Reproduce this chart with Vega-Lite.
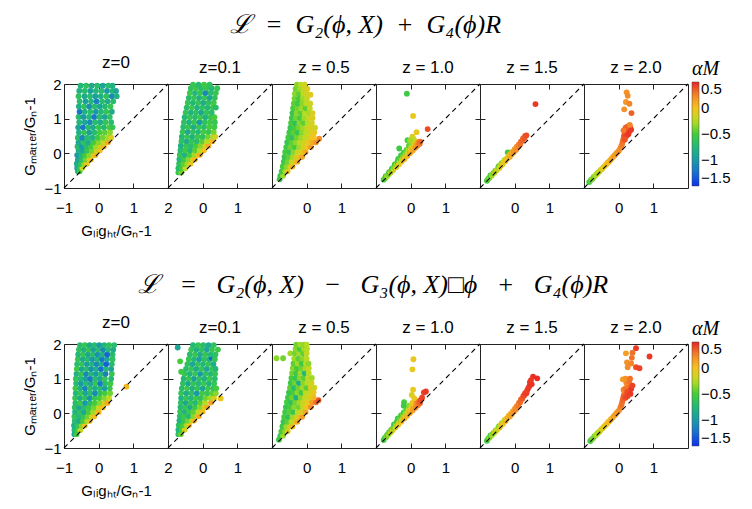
{
  "$schema": "https://vega.github.io/schema/vega-lite/v6.json",
  "background": "white",
  "padding": {"left": 22, "top": 11, "right": 5, "bottom": 5},
  "config": {
    "view": {"stroke": "#222", "strokeWidth": 1},
    "axis": {"domain": false, "grid": false, "tickSize": -5, "tickColor": "#222", "tickWidth": 1, "labelFont": "Liberation Sans", "labelFontSize": 15, "labelColor": "#000", "labelFlush": false, "labelOverlap": false, "labelPadding": 17, "titleFont": "Liberation Sans", "titleFontSize": 15, "titleFontWeight": "normal", "titleColor": "#000", "titlePadding": 8, "minExtent": 0},
    "axisY": {"labelPadding": 8, "titlePadding": 6},
    "title": {"font": "Liberation Sans", "fontSize": 17, "fontWeight": "normal", "color": "#000", "offset": 5},
    "legend": {"orient": "none", "legendX": 628, "legendY": -25, "padding": 0, "gradientLength": 104, "gradientThickness": 7, "gradientStrokeColor": "#444", "gradientStrokeWidth": 0.5, "labelFont": "Liberation Sans", "labelFontSize": 15, "labelColor": "#000", "labelOffset": 9, "labelBaseline": "middle", "titleFont": "Liberation Serif", "titleFontStyle": "italic", "titleFontSize": 20, "titleFontWeight": "normal", "titleColor": "#000", "titlePadding": 3}
  },
  "datasets": {
    "diag": [{"x": -1, "y": -1}, {"x": 2, "y": 2}],
    "a0": [
      {"x":-0.6,"y":-0.52,"a":-0.8},{"x":-0.55,"y":-0.52,"a":-0.5},
      {"x":-0.62,"y":-0.42,"a":-0.9},{"x":-0.55,"y":-0.42,"a":-0.6},{"x":-0.47,"y":-0.42,"a":-0.2},
      {"x":-0.63,"y":-0.3,"a":-0.85},{"x":-0.52,"y":-0.3,"a":-0.6},{"x":-0.42,"y":-0.3,"a":-0.35},{"x":-0.34,"y":-0.3,"a":-0.05},
      {"x":-0.6,"y":-0.18,"a":-0.9},{"x":-0.5,"y":-0.18,"a":-0.7},{"x":-0.38,"y":-0.18,"a":-0.4},{"x":-0.27,"y":-0.18,"a":-0.2},{"x":-0.22,"y":-0.18,"a":0.0},
      {"x":-0.62,"y":-0.05,"a":-1.0},{"x":-0.5,"y":-0.05,"a":-0.75},{"x":-0.4,"y":-0.05,"a":-0.55},{"x":-0.28,"y":-0.05,"a":-0.35},{"x":-0.15,"y":-0.05,"a":-0.15},{"x":-0.09,"y":-0.05,"a":0.05},
      {"x":-0.58,"y":0.08,"a":-0.8},{"x":-0.46,"y":0.08,"a":-0.9},{"x":-0.33,"y":0.08,"a":-0.6},{"x":-0.2,"y":0.08,"a":-0.4},{"x":-0.06,"y":0.08,"a":-0.2},{"x":0.03,"y":0.08,"a":0.02},
      {"x":-0.61,"y":0.2,"a":-0.7},{"x":-0.48,"y":0.2,"a":-1.0},{"x":-0.36,"y":0.2,"a":-0.7},{"x":-0.22,"y":0.2,"a":-0.5},{"x":-0.08,"y":0.2,"a":-0.3},{"x":0.06,"y":0.2,"a":-0.15},{"x":0.15,"y":0.2,"a":0.05},
      {"x":-0.58,"y":0.32,"a":-0.9},{"x":-0.44,"y":0.32,"a":-0.65},{"x":-0.3,"y":0.32,"a":-0.85},{"x":-0.15,"y":0.32,"a":-0.5},{"x":0.0,"y":0.32,"a":-0.35},{"x":0.14,"y":0.32,"a":-0.2},{"x":0.27,"y":0.32,"a":0.1},
      {"x":-0.6,"y":0.45,"a":-0.7},{"x":-0.47,"y":0.45,"a":-1.1},{"x":-0.33,"y":0.45,"a":-0.7},{"x":-0.18,"y":0.45,"a":-0.8},{"x":-0.03,"y":0.45,"a":-0.55},{"x":0.12,"y":0.45,"a":-0.4},{"x":0.27,"y":0.45,"a":-0.3},{"x":0.36,"y":0.45,"a":-0.1},
      {"x":-0.57,"y":0.6,"a":-0.8},{"x":-0.42,"y":0.6,"a":-0.6},{"x":-0.27,"y":0.6,"a":-0.95},{"x":-0.12,"y":0.6,"a":-0.7},{"x":0.03,"y":0.6,"a":-0.5},{"x":0.18,"y":0.6,"a":-0.45},{"x":0.33,"y":0.6,"a":-0.35},
      {"x":-0.59,"y":0.75,"a":-0.9},{"x":-0.45,"y":0.75,"a":-1.2},{"x":-0.3,"y":0.75,"a":-0.7},{"x":-0.16,"y":0.75,"a":-0.85},{"x":0.0,"y":0.75,"a":-0.6},{"x":0.15,"y":0.75,"a":-0.75},{"x":0.3,"y":0.75,"a":-0.5},{"x":0.4,"y":0.75,"a":-0.6},
      {"x":-0.56,"y":0.9,"a":-0.75},{"x":-0.4,"y":0.9,"a":-0.9},{"x":-0.25,"y":0.9,"a":-1.1},{"x":-0.1,"y":0.9,"a":-0.7},{"x":0.05,"y":0.9,"a":-0.85},{"x":0.2,"y":0.9,"a":-0.6},{"x":0.36,"y":0.9,"a":-0.7},
      {"x":-0.58,"y":1.05,"a":-0.7},{"x":-0.44,"y":1.05,"a":-1.0},{"x":-0.28,"y":1.05,"a":-0.75},{"x":-0.13,"y":1.05,"a":-1.2},{"x":0.02,"y":1.05,"a":-0.7},{"x":0.17,"y":1.05,"a":-0.9},{"x":0.32,"y":1.05,"a":-0.65},
      {"x":-0.55,"y":1.2,"a":-1.2},{"x":-0.4,"y":1.2,"a":-0.8},{"x":-0.24,"y":1.2,"a":-0.7},{"x":-0.08,"y":1.2,"a":-1.0},{"x":0.07,"y":1.2,"a":-0.75},{"x":0.22,"y":1.2,"a":-0.6},{"x":0.38,"y":1.2,"a":-0.85},
      {"x":-0.57,"y":1.35,"a":-0.8},{"x":-0.42,"y":1.35,"a":-0.65},{"x":-0.27,"y":1.35,"a":-1.05},{"x":-0.12,"y":1.35,"a":-0.7},{"x":0.03,"y":1.35,"a":-0.9},{"x":0.18,"y":1.35,"a":-0.75},{"x":0.34,"y":1.35,"a":-0.6},
      {"x":-0.55,"y":1.5,"a":-0.7},{"x":-0.38,"y":1.5,"a":-0.95},{"x":-0.22,"y":1.5,"a":-0.75},{"x":-0.06,"y":1.5,"a":-1.15},{"x":0.1,"y":1.5,"a":-0.7},{"x":0.26,"y":1.5,"a":-0.85},{"x":0.42,"y":1.5,"a":-0.7},
      {"x":-0.58,"y":1.65,"a":-0.65},{"x":-0.41,"y":1.65,"a":-0.85},{"x":-0.25,"y":1.65,"a":-0.7},{"x":-0.1,"y":1.65,"a":-0.95},{"x":0.06,"y":1.65,"a":-0.8},{"x":0.22,"y":1.65,"a":-0.65},{"x":0.38,"y":1.65,"a":-1.1},{"x":0.52,"y":1.65,"a":-0.8},
      {"x":-0.56,"y":1.8,"a":-0.8},{"x":-0.4,"y":1.8,"a":-0.7},{"x":-0.24,"y":1.8,"a":-0.95},{"x":-0.08,"y":1.8,"a":-0.75},{"x":0.08,"y":1.8,"a":-0.7},{"x":0.24,"y":1.8,"a":-1.0},{"x":0.4,"y":1.8,"a":-0.75},{"x":0.5,"y":1.8,"a":-0.9},
      {"x":-0.52,"y":1.95,"a":-0.75},{"x":-0.36,"y":1.95,"a":-0.65},{"x":-0.2,"y":1.95,"a":-0.85},{"x":-0.04,"y":1.95,"a":-0.7},{"x":0.12,"y":1.95,"a":-0.9},{"x":0.28,"y":1.95,"a":-0.7},{"x":0.4,"y":1.95,"a":-0.8}
    ],
    "a1": [
      {"x":-0.7,"y":-0.55,"a":-0.6},{"x":-0.62,"y":-0.55,"a":-0.4},
      {"x":-0.7,"y":-0.43,"a":-0.7},{"x":-0.6,"y":-0.43,"a":-0.5},{"x":-0.5,"y":-0.43,"a":-0.2},
      {"x":-0.68,"y":-0.3,"a":-0.65},{"x":-0.56,"y":-0.3,"a":-0.45},{"x":-0.44,"y":-0.3,"a":-0.3},{"x":-0.35,"y":-0.3,"a":-0.05},
      {"x":-0.67,"y":-0.17,"a":-0.75},{"x":-0.54,"y":-0.17,"a":-0.55},{"x":-0.41,"y":-0.17,"a":-0.35},{"x":-0.28,"y":-0.17,"a":-0.15},{"x":-0.22,"y":-0.17,"a":0.05},
      {"x":-0.66,"y":-0.04,"a":-0.6},{"x":-0.52,"y":-0.04,"a":-0.8},{"x":-0.38,"y":-0.04,"a":-0.5},{"x":-0.24,"y":-0.04,"a":-0.3},{"x":-0.12,"y":-0.04,"a":-0.1},{"x":-0.08,"y":-0.04,"a":0.08},
      {"x":-0.64,"y":0.09,"a":-0.7},{"x":-0.5,"y":0.09,"a":-0.55},{"x":-0.36,"y":0.09,"a":-0.75},{"x":-0.22,"y":0.09,"a":-0.45},{"x":-0.08,"y":0.09,"a":-0.25},{"x":0.04,"y":0.09,"a":0.0},
      {"x":-0.63,"y":0.22,"a":-0.8},{"x":-0.48,"y":0.22,"a":-0.6},{"x":-0.34,"y":0.22,"a":-0.7},{"x":-0.2,"y":0.22,"a":-0.5},{"x":-0.06,"y":0.22,"a":-0.35},{"x":0.08,"y":0.22,"a":-0.1},{"x":0.17,"y":0.22,"a":0.1},
      {"x":-0.61,"y":0.35,"a":-0.65},{"x":-0.46,"y":0.35,"a":-0.85},{"x":-0.32,"y":0.35,"a":-0.6},{"x":-0.17,"y":0.35,"a":-0.7},{"x":-0.02,"y":0.35,"a":-0.45},{"x":0.13,"y":0.35,"a":-0.25},{"x":0.28,"y":0.35,"a":0.05},
      {"x":-0.6,"y":0.48,"a":-0.75},{"x":-0.45,"y":0.48,"a":-0.6},{"x":-0.3,"y":0.48,"a":-0.8},{"x":-0.15,"y":0.48,"a":-0.55},{"x":0.0,"y":0.48,"a":-0.65},{"x":0.15,"y":0.48,"a":-0.4},{"x":0.3,"y":0.48,"a":-0.3},{"x":0.36,"y":0.48,"a":-0.15},
      {"x":-0.58,"y":0.62,"a":-0.6},{"x":-0.43,"y":0.62,"a":-0.9},{"x":-0.28,"y":0.62,"a":-0.65},{"x":-0.13,"y":0.62,"a":-0.75},{"x":0.02,"y":0.62,"a":-0.5},{"x":0.17,"y":0.62,"a":-0.6},{"x":0.32,"y":0.62,"a":-0.4},
      {"x":-0.56,"y":0.76,"a":-0.7},{"x":-0.41,"y":0.76,"a":-0.6},{"x":-0.26,"y":0.76,"a":-0.85},{"x":-0.11,"y":0.76,"a":-0.6},{"x":0.04,"y":0.76,"a":-0.7},{"x":0.19,"y":0.76,"a":-0.5},{"x":0.34,"y":0.76,"a":-0.55},
      {"x":-0.54,"y":0.9,"a":-0.65},{"x":-0.39,"y":0.9,"a":-0.8},{"x":-0.24,"y":0.9,"a":-0.6},{"x":-0.09,"y":0.9,"a":-1.0},{"x":0.06,"y":0.9,"a":-0.65},{"x":0.21,"y":0.9,"a":-0.55},{"x":0.35,"y":0.9,"a":-0.6},
      {"x":-0.52,"y":1.04,"a":-0.75},{"x":-0.37,"y":1.04,"a":-0.6},{"x":-0.22,"y":1.04,"a":-0.7},{"x":-0.07,"y":1.04,"a":-0.55},{"x":0.08,"y":1.04,"a":-0.8},{"x":0.23,"y":1.04,"a":-0.6},{"x":0.34,"y":1.04,"a":-0.5},
      {"x":-0.49,"y":1.18,"a":-0.6},{"x":-0.34,"y":1.18,"a":-0.8},{"x":-0.19,"y":1.18,"a":-0.65},{"x":-0.04,"y":1.18,"a":-0.9},{"x":0.11,"y":1.18,"a":-0.6},{"x":0.26,"y":1.18,"a":-0.7},
      {"x":-0.46,"y":1.32,"a":-0.7},{"x":-0.31,"y":1.32,"a":-0.55},{"x":-0.16,"y":1.32,"a":-0.8},{"x":-0.01,"y":1.32,"a":-0.65},{"x":0.14,"y":1.32,"a":-0.75},{"x":0.29,"y":1.32,"a":-0.6},{"x":0.38,"y":1.32,"a":-0.7},
      {"x":-0.43,"y":1.46,"a":-0.6},{"x":-0.28,"y":1.46,"a":-0.75},{"x":-0.13,"y":1.46,"a":-0.6},{"x":0.02,"y":1.46,"a":-0.85},{"x":0.17,"y":1.46,"a":-0.65},{"x":0.32,"y":1.46,"a":-0.55},
      {"x":-0.4,"y":1.6,"a":-0.7},{"x":-0.25,"y":1.6,"a":-0.6},{"x":-0.1,"y":1.6,"a":-0.8},{"x":0.05,"y":1.6,"a":-0.6},{"x":0.2,"y":1.6,"a":-0.9},{"x":0.35,"y":1.6,"a":-0.65},
      {"x":-0.37,"y":1.74,"a":-0.55},{"x":-0.22,"y":1.74,"a":-0.75},{"x":-0.07,"y":1.74,"a":-0.6},{"x":0.08,"y":1.74,"a":-1.1},{"x":0.23,"y":1.74,"a":-0.7},{"x":0.38,"y":1.74,"a":-0.6},
      {"x":-0.34,"y":1.88,"a":-0.65},{"x":-0.19,"y":1.88,"a":-0.55},{"x":-0.04,"y":1.88,"a":-0.7},{"x":0.11,"y":1.88,"a":-0.6},{"x":0.26,"y":1.88,"a":-0.75},{"x":0.42,"y":1.88,"a":-0.6},
      {"x":-0.28,"y":1.98,"a":-0.6},{"x":-0.12,"y":1.98,"a":-0.7},{"x":0.04,"y":1.98,"a":-0.55},{"x":0.2,"y":1.98,"a":-0.65}
    ],
    "a5": [
      {"x":-0.78,"y":-0.75,"a":-0.55},
      {"x":-0.76,"y":-0.65,"a":-0.6},{"x":-0.68,"y":-0.65,"a":-0.3},
      {"x":-0.72,"y":-0.52,"a":-0.55},{"x":-0.62,"y":-0.52,"a":-0.3},{"x":-0.55,"y":-0.52,"a":-0.05},
      {"x":-0.69,"y":-0.38,"a":-0.5},{"x":-0.58,"y":-0.38,"a":-0.35},{"x":-0.47,"y":-0.38,"a":-0.15},{"x":-0.41,"y":-0.38,"a":0.05},
      {"x":-0.66,"y":-0.24,"a":-0.55},{"x":-0.55,"y":-0.24,"a":-0.4},{"x":-0.43,"y":-0.24,"a":-0.2},{"x":-0.32,"y":-0.24,"a":-0.05},{"x":-0.27,"y":-0.24,"a":0.08},
      {"x":-0.64,"y":-0.1,"a":-0.6},{"x":-0.52,"y":-0.1,"a":-0.45},{"x":-0.4,"y":-0.1,"a":-0.3},{"x":-0.28,"y":-0.1,"a":-0.1},{"x":-0.16,"y":-0.1,"a":0.05},{"x":-0.13,"y":-0.1,"a":0.12},
      {"x":-0.62,"y":0.04,"a":-0.5},{"x":-0.5,"y":0.04,"a":-0.6},{"x":-0.38,"y":0.04,"a":-0.35},{"x":-0.26,"y":0.04,"a":-0.2},{"x":-0.14,"y":0.04,"a":-0.05},{"x":-0.03,"y":0.04,"a":0.1},
      {"x":-0.59,"y":0.18,"a":-0.55},{"x":-0.47,"y":0.18,"a":-0.4},{"x":-0.35,"y":0.18,"a":-0.5},{"x":-0.22,"y":0.18,"a":-0.3},{"x":-0.1,"y":0.18,"a":-0.15},{"x":0.02,"y":0.18,"a":0.0},{"x":0.12,"y":0.18,"a":0.15},
      {"x":-0.56,"y":0.32,"a":-0.6},{"x":-0.44,"y":0.32,"a":-0.45},{"x":-0.32,"y":0.32,"a":-0.35},{"x":-0.2,"y":0.32,"a":-0.25},{"x":-0.08,"y":0.32,"a":-0.15},{"x":0.05,"y":0.32,"a":-0.05},{"x":0.17,"y":0.32,"a":0.08},{"x":0.27,"y":0.32,"a":0.18},
      {"x":0.36,"y":0.42,"a":0.22},
      {"x":-0.53,"y":0.46,"a":-0.5},{"x":-0.41,"y":0.46,"a":-0.65},{"x":-0.29,"y":0.46,"a":-0.4},{"x":-0.16,"y":0.46,"a":-0.3},{"x":-0.04,"y":0.46,"a":-0.2},{"x":0.09,"y":0.46,"a":-0.1},{"x":0.2,"y":0.46,"a":0.0},
      {"x":-0.5,"y":0.6,"a":-0.55},{"x":-0.38,"y":0.6,"a":-0.45},{"x":-0.26,"y":0.6,"a":-0.6},{"x":-0.14,"y":0.6,"a":-0.35},{"x":-0.02,"y":0.6,"a":-0.25},{"x":0.1,"y":0.6,"a":-0.15},{"x":0.22,"y":0.6,"a":-0.05},
      {"x":-0.47,"y":0.74,"a":-0.6},{"x":-0.35,"y":0.74,"a":-0.5},{"x":-0.23,"y":0.74,"a":-0.4},{"x":-0.11,"y":0.74,"a":-0.3},{"x":0.01,"y":0.74,"a":-0.2},{"x":0.13,"y":0.74,"a":-0.1},{"x":0.24,"y":0.74,"a":-0.15},
      {"x":-0.45,"y":0.88,"a":-0.5},{"x":-0.33,"y":0.88,"a":-0.65},{"x":-0.21,"y":0.88,"a":-0.35},{"x":-0.09,"y":0.88,"a":-0.45},{"x":0.03,"y":0.88,"a":-0.25},{"x":0.15,"y":0.88,"a":-0.15},
      {"x":-0.43,"y":1.02,"a":-0.55},{"x":-0.31,"y":1.02,"a":-0.4},{"x":-0.19,"y":1.02,"a":-0.5},{"x":-0.07,"y":1.02,"a":-0.3},{"x":0.05,"y":1.02,"a":-0.2},{"x":0.17,"y":1.02,"a":-0.1},
      {"x":-0.41,"y":1.16,"a":-0.6},{"x":-0.29,"y":1.16,"a":-0.35},{"x":-0.17,"y":1.16,"a":-0.45},{"x":-0.05,"y":1.16,"a":-0.25},{"x":0.07,"y":1.16,"a":-0.3},{"x":0.17,"y":1.16,"a":-0.1},
      {"x":-0.39,"y":1.3,"a":-0.5},{"x":-0.27,"y":1.3,"a":-0.4},{"x":-0.15,"y":1.3,"a":-0.3},{"x":-0.03,"y":1.3,"a":-0.45},{"x":0.09,"y":1.3,"a":-0.2},
      {"x":-0.37,"y":1.44,"a":-0.45},{"x":-0.25,"y":1.44,"a":-0.55},{"x":-0.13,"y":1.44,"a":-0.35},{"x":-0.01,"y":1.44,"a":-0.25},{"x":0.1,"y":1.44,"a":-0.15},
      {"x":-0.35,"y":1.58,"a":-0.4},{"x":-0.23,"y":1.58,"a":-0.5},{"x":-0.11,"y":1.58,"a":-0.3},{"x":0.01,"y":1.58,"a":-0.2},
      {"x":-0.34,"y":1.72,"a":-0.35},{"x":-0.22,"y":1.72,"a":-0.45},{"x":-0.1,"y":1.72,"a":-0.25},{"x":0.0,"y":1.72,"a":-0.15},{"x":0.11,"y":1.69,"a":-0.1},
      {"x":-0.32,"y":1.86,"a":-0.4},{"x":-0.2,"y":1.86,"a":-0.3},{"x":-0.08,"y":1.86,"a":-0.2},{"x":0.02,"y":1.86,"a":-0.1},
      {"x":-0.28,"y":1.98,"a":-0.35},{"x":-0.17,"y":1.98,"a":-0.25},{"x":-0.06,"y":1.98,"a":-0.15}
    ],
    "a10": [
      {"x":-0.78,"y":-0.76,"a":-0.5},{"x":-0.74,"y":-0.72,"a":-0.45},{"x":-0.72,"y":-0.66,"a":-0.55},{"x":-0.68,"y":-0.66,"a":-0.3},{"x":-0.64,"y":-0.6,"a":-0.4},{"x":-0.62,"y":-0.54,"a":-0.55},{"x":-0.58,"y":-0.56,"a":-0.2},{"x":-0.56,"y":-0.5,"a":-0.4},{"x":-0.54,"y":-0.44,"a":-0.55},{"x":-0.5,"y":-0.48,"a":-0.15},{"x":-0.48,"y":-0.4,"a":-0.35},{"x":-0.46,"y":-0.32,"a":-0.5},{"x":-0.42,"y":-0.4,"a":-0.1},{"x":-0.4,"y":-0.33,"a":-0.3},{"x":-0.38,"y":-0.24,"a":-0.5},{"x":-0.36,"y":-0.16,"a":-0.55},{"x":-0.34,"y":-0.32,"a":-0.05},{"x":-0.32,"y":-0.25,"a":-0.25},{"x":-0.3,"y":-0.15,"a":-0.45},{"x":-0.28,"y":-0.06,"a":-0.55},{"x":-0.26,"y":-0.24,"a":0.0},{"x":-0.24,"y":-0.17,"a":-0.2},{"x":-0.22,"y":-0.08,"a":-0.4},{"x":-0.2,"y":0.02,"a":-0.5},{"x":-0.18,"y":-0.16,"a":0.05},{"x":-0.16,"y":-0.08,"a":-0.15},{"x":-0.14,"y":0.0,"a":-0.35},{"x":-0.12,"y":0.1,"a":-0.45},{"x":-0.1,"y":-0.08,"a":0.05},{"x":-0.08,"y":0.02,"a":-0.1},{"x":-0.06,"y":0.12,"a":-0.3},{"x":-0.05,"y":0.22,"a":-0.45},{"x":-0.02,"y":0.0,"a":0.1},{"x":0.0,"y":0.1,"a":-0.05},{"x":0.02,"y":0.2,"a":-0.2},{"x":0.03,"y":0.3,"a":-0.35},{"x":0.06,"y":0.08,"a":0.12},{"x":0.08,"y":0.18,"a":0.05},{"x":0.1,"y":0.28,"a":-0.1},{"x":0.12,"y":0.36,"a":-0.25},{"x":0.14,"y":0.16,"a":0.18},{"x":0.16,"y":0.25,"a":0.12},{"x":0.18,"y":0.34,"a":0.05},{"x":0.2,"y":0.22,"a":0.22},{"x":0.22,"y":0.3,"a":0.25},{"x":0.26,"y":0.28,"a":0.3},{"x":0.28,"y":0.34,"a":0.32},
      {"x":-0.11,"y":1.72,"a":-0.55},{"x":0.07,"y":1.08,"a":-0.05},{"x":0.49,"y":0.7,"a":0.4},{"x":0.17,"y":0.61,"a":-0.05},{"x":0.05,"y":0.48,"a":-0.1},{"x":-0.33,"y":0.14,"a":-0.55},{"x":-0.09,"y":0.38,"a":-0.5},{"x":0.08,"y":0.42,"a":-0.2},{"x":-0.02,"y":0.36,"a":-0.3}
    ],
    "a15": [
      {"x":-0.8,"y":-0.79,"a":-0.5},{"x":-0.76,"y":-0.73,"a":-0.45},{"x":-0.72,"y":-0.7,"a":-0.35},{"x":-0.7,"y":-0.64,"a":-0.5},{"x":-0.66,"y":-0.64,"a":-0.3},{"x":-0.62,"y":-0.57,"a":-0.4},{"x":-0.58,"y":-0.56,"a":-0.2},{"x":-0.56,"y":-0.5,"a":-0.4},{"x":-0.52,"y":-0.49,"a":-0.15},{"x":-0.48,"y":-0.42,"a":-0.3},{"x":-0.46,"y":-0.37,"a":-0.45},{"x":-0.44,"y":-0.42,"a":-0.1},{"x":-0.4,"y":-0.35,"a":-0.2},{"x":-0.38,"y":-0.28,"a":-0.35},{"x":-0.35,"y":-0.32,"a":-0.05},{"x":-0.32,"y":-0.26,"a":-0.1},{"x":-0.3,"y":-0.2,"a":-0.25},{"x":-0.27,"y":-0.23,"a":0.0},{"x":-0.24,"y":-0.16,"a":-0.05},{"x":-0.2,"y":0.03,"a":-0.55},{"x":-0.2,"y":-0.14,"a":0.05},{"x":-0.18,"y":-0.08,"a":-0.1},{"x":-0.14,"y":-0.1,"a":0.1},{"x":-0.12,"y":-0.02,"a":0.05},{"x":-0.08,"y":-0.03,"a":0.12},{"x":-0.06,"y":0.05,"a":0.1},{"x":-0.02,"y":0.04,"a":0.18},{"x":0.0,"y":0.12,"a":0.15},{"x":0.04,"y":0.1,"a":0.22},{"x":0.06,"y":0.19,"a":0.2},{"x":0.1,"y":0.18,"a":0.26},{"x":0.12,"y":0.26,"a":0.25},{"x":0.16,"y":0.26,"a":0.3},{"x":0.18,"y":0.34,"a":0.3},{"x":0.22,"y":0.36,"a":0.35},{"x":0.24,"y":0.43,"a":0.33},{"x":0.28,"y":0.44,"a":0.38},{"x":0.3,"y":0.5,"a":0.36},{"x":0.34,"y":0.52,"a":0.4},{"x":0.6,"y":1.42,"a":0.45}
    ],
    "a20": [
      {"x":-0.85,"y":-0.83,"a":-0.5},{"x":-0.8,"y":-0.77,"a":-0.45},{"x":-0.76,"y":-0.74,"a":-0.35},{"x":-0.72,"y":-0.68,"a":-0.4},{"x":-0.68,"y":-0.65,"a":-0.3},{"x":-0.64,"y":-0.6,"a":-0.25},{"x":-0.6,"y":-0.56,"a":-0.3},{"x":-0.56,"y":-0.53,"a":-0.15},{"x":-0.52,"y":-0.48,"a":-0.2},{"x":-0.48,"y":-0.45,"a":-0.1},{"x":-0.44,"y":-0.4,"a":-0.05},{"x":-0.4,"y":-0.36,"a":-0.1},{"x":-0.36,"y":-0.32,"a":0.0},{"x":-0.32,"y":-0.27,"a":0.05},{"x":-0.28,"y":-0.24,"a":0.02},{"x":-0.24,"y":-0.19,"a":0.1},{"x":-0.2,"y":-0.15,"a":0.08},{"x":-0.16,"y":-0.1,"a":0.12},{"x":-0.12,"y":-0.06,"a":0.15},{"x":-0.08,"y":-0.01,"a":0.15},{"x":-0.04,"y":0.03,"a":0.18},{"x":0.0,"y":0.07,"a":0.2},{"x":0.04,"y":0.13,"a":0.22},{"x":0.07,"y":0.2,"a":0.25},{"x":0.1,"y":0.27,"a":0.28},{"x":0.12,"y":0.35,"a":0.3},{"x":0.14,"y":0.42,"a":0.32},{"x":0.15,"y":0.5,"a":0.35},{"x":0.18,"y":0.56,"a":0.38},{"x":0.2,"y":0.62,"a":0.4},{"x":0.24,"y":0.66,"a":0.42},{"x":0.28,"y":0.7,"a":0.4},{"x":0.3,"y":0.62,"a":0.45},{"x":0.33,"y":0.76,"a":0.38},{"x":0.26,"y":0.78,"a":0.3},{"x":0.36,"y":0.68,"a":0.45},{"x":0.2,"y":0.74,"a":0.35},{"x":0.14,"y":0.66,"a":0.28},{"x":0.32,"y":0.82,"a":0.25},{"x":0.22,"y":0.5,"a":0.42},{"x":0.28,"y":0.55,"a":0.45},{"x":0.18,"y":0.4,"a":0.38},
      {"x":0.23,"y":1.76,"a":0.2},{"x":0.26,"y":1.66,"a":0.22},{"x":0.21,"y":1.48,"a":0.18},{"x":0.31,"y":1.43,"a":0.25},{"x":0.16,"y":1.27,"a":0.2},{"x":0.37,"y":1.16,"a":0.35}
    ],
    "b0": [
      {"x":-0.7,"y":-0.6,"a":-0.9},{"x":-0.64,"y":-0.6,"a":-0.5},
      {"x":-0.7,"y":-0.48,"a":-0.75},{"x":-0.61,"y":-0.48,"a":-0.55},{"x":-0.53,"y":-0.48,"a":-0.2},
      {"x":-0.71,"y":-0.35,"a":-0.8},{"x":-0.6,"y":-0.35,"a":-0.6},{"x":-0.49,"y":-0.35,"a":-0.35},{"x":-0.4,"y":-0.35,"a":-0.05},
      {"x":-0.69,"y":-0.22,"a":-0.7},{"x":-0.57,"y":-0.22,"a":-0.85},{"x":-0.45,"y":-0.22,"a":-0.5},{"x":-0.34,"y":-0.22,"a":-0.3},{"x":-0.26,"y":-0.22,"a":-0.05},
      {"x":-0.7,"y":-0.09,"a":-0.6},{"x":-0.57,"y":-0.09,"a":-0.75},{"x":-0.44,"y":-0.09,"a":-0.6},{"x":-0.32,"y":-0.09,"a":-0.4},{"x":-0.2,"y":-0.09,"a":-0.2},{"x":-0.13,"y":-0.09,"a":0.02},
      {"x":-0.68,"y":0.04,"a":-0.8},{"x":-0.55,"y":0.04,"a":-0.65},{"x":-0.42,"y":0.04,"a":-0.9},{"x":-0.29,"y":0.04,"a":-0.5},{"x":-0.16,"y":0.04,"a":-0.3},{"x":-0.03,"y":0.04,"a":-0.1},{"x":0.0,"y":0.04,"a":0.05},
      {"x":-0.69,"y":0.17,"a":-0.65},{"x":-0.56,"y":0.17,"a":-0.9},{"x":-0.42,"y":0.17,"a":-0.7},{"x":-0.28,"y":0.17,"a":-0.55},{"x":-0.14,"y":0.17,"a":-0.4},{"x":0.0,"y":0.17,"a":-0.2},{"x":0.12,"y":0.17,"a":0.0},
      {"x":-0.67,"y":0.3,"a":-0.7},{"x":-0.53,"y":0.3,"a":-0.55},{"x":-0.39,"y":0.3,"a":-1.0},{"x":-0.25,"y":0.3,"a":-0.7},{"x":-0.11,"y":0.3,"a":-0.5},{"x":0.03,"y":0.3,"a":-0.35},{"x":0.17,"y":0.3,"a":-0.15},{"x":0.25,"y":0.3,"a":0.1},
      {"x":-0.68,"y":0.44,"a":-0.6},{"x":-0.54,"y":0.44,"a":-0.85},{"x":-0.4,"y":0.44,"a":-0.65},{"x":-0.26,"y":0.44,"a":-1.05},{"x":-0.12,"y":0.44,"a":-0.6},{"x":0.02,"y":0.44,"a":-0.5},{"x":0.16,"y":0.44,"a":-0.35},{"x":0.3,"y":0.44,"a":-0.2},
      {"x":-0.66,"y":0.58,"a":-0.75},{"x":-0.52,"y":0.58,"a":-0.6},{"x":-0.38,"y":0.58,"a":-0.9},{"x":-0.24,"y":0.58,"a":-0.7},{"x":-0.1,"y":0.58,"a":-1.1},{"x":0.04,"y":0.58,"a":-0.65},{"x":0.18,"y":0.58,"a":-0.5},{"x":0.33,"y":0.58,"a":-0.4},
      {"x":-0.67,"y":0.72,"a":-0.55},{"x":-0.53,"y":0.72,"a":-0.8},{"x":-0.39,"y":0.72,"a":-1.15},{"x":-0.25,"y":0.72,"a":-0.65},{"x":-0.11,"y":0.72,"a":-0.85},{"x":0.03,"y":0.72,"a":-0.7},{"x":0.17,"y":0.72,"a":-0.95},{"x":0.32,"y":0.72,"a":-0.6},
      {"x":0.8,"y":0.77,"a":0.05},
      {"x":-0.65,"y":0.86,"a":-0.7},{"x":-0.51,"y":0.86,"a":-1.0},{"x":-0.37,"y":0.86,"a":-0.7},{"x":-0.23,"y":0.86,"a":-0.9},{"x":-0.09,"y":0.86,"a":-0.6},{"x":0.05,"y":0.86,"a":-1.2},{"x":0.19,"y":0.86,"a":-0.7},{"x":0.34,"y":0.86,"a":-0.55},
      {"x":-0.66,"y":1.0,"a":-0.6},{"x":-0.52,"y":1.0,"a":-0.75},{"x":-0.38,"y":1.0,"a":-0.95},{"x":-0.24,"y":1.0,"a":-1.2},{"x":-0.1,"y":1.0,"a":-0.7},{"x":0.04,"y":1.0,"a":-0.9},{"x":0.18,"y":1.0,"a":-0.6},{"x":0.36,"y":1.0,"a":-0.75},
      {"x":-0.64,"y":1.14,"a":-0.8},{"x":-0.5,"y":1.14,"a":-0.6},{"x":-0.36,"y":1.14,"a":-1.1},{"x":-0.22,"y":1.14,"a":-0.75},{"x":-0.08,"y":1.14,"a":-1.0},{"x":0.06,"y":1.14,"a":-0.7},{"x":0.2,"y":1.14,"a":-1.15},{"x":0.38,"y":1.14,"a":-0.6},
      {"x":-0.63,"y":1.28,"a":-0.55},{"x":-0.49,"y":1.28,"a":-0.9},{"x":-0.35,"y":1.28,"a":-0.7},{"x":-0.21,"y":1.28,"a":-1.05},{"x":-0.07,"y":1.28,"a":-0.8},{"x":0.07,"y":1.28,"a":-1.25},{"x":0.21,"y":1.28,"a":-0.75},{"x":0.36,"y":1.28,"a":-0.9},
      {"x":-0.62,"y":1.42,"a":-0.7},{"x":-0.48,"y":1.42,"a":-0.6},{"x":-0.34,"y":1.42,"a":-0.95},{"x":-0.2,"y":1.42,"a":-0.75},{"x":-0.06,"y":1.42,"a":-1.1},{"x":0.08,"y":1.42,"a":-0.8},{"x":0.22,"y":1.42,"a":-1.3},{"x":0.38,"y":1.42,"a":-0.7},
      {"x":-0.6,"y":1.56,"a":-0.6},{"x":-0.46,"y":1.56,"a":-0.85},{"x":-0.32,"y":1.56,"a":-0.7},{"x":-0.18,"y":1.56,"a":-1.0},{"x":-0.04,"y":1.56,"a":-0.75},{"x":0.1,"y":1.56,"a":-1.2},{"x":0.24,"y":1.56,"a":-0.9},{"x":0.4,"y":1.56,"a":-0.65},
      {"x":-0.59,"y":1.7,"a":-0.75},{"x":-0.45,"y":1.7,"a":-0.6},{"x":-0.31,"y":1.7,"a":-0.9},{"x":-0.17,"y":1.7,"a":-0.7},{"x":-0.03,"y":1.7,"a":-1.05},{"x":0.11,"y":1.7,"a":-0.8},{"x":0.25,"y":1.7,"a":-1.3},{"x":0.4,"y":1.7,"a":-0.7},
      {"x":-0.57,"y":1.84,"a":-0.65},{"x":-0.43,"y":1.84,"a":-0.8},{"x":-0.29,"y":1.84,"a":-0.6},{"x":-0.15,"y":1.84,"a":-0.95},{"x":-0.01,"y":1.84,"a":-0.7},{"x":0.13,"y":1.84,"a":-1.1},{"x":0.27,"y":1.84,"a":-0.75},{"x":0.42,"y":1.84,"a":-0.85},
      {"x":-0.54,"y":1.97,"a":-0.7},{"x":-0.4,"y":1.97,"a":-0.6},{"x":-0.26,"y":1.97,"a":-0.85},{"x":-0.12,"y":1.97,"a":-0.7},{"x":0.02,"y":1.97,"a":-1.0},{"x":0.16,"y":1.97,"a":-0.75},{"x":0.3,"y":1.97,"a":-0.65},{"x":0.45,"y":1.97,"a":-0.7}
    ],
    "b1": [
      {"x":-0.7,"y":-0.6,"a":-0.7},{"x":-0.63,"y":-0.6,"a":-0.4},
      {"x":-0.7,"y":-0.47,"a":-0.75},{"x":-0.6,"y":-0.47,"a":-0.5},{"x":-0.52,"y":-0.47,"a":-0.15},
      {"x":-0.69,"y":-0.34,"a":-0.65},{"x":-0.58,"y":-0.34,"a":-0.5},{"x":-0.47,"y":-0.34,"a":-0.3},{"x":-0.39,"y":-0.34,"a":0.0},
      {"x":-0.67,"y":-0.21,"a":-0.8},{"x":-0.55,"y":-0.21,"a":-0.6},{"x":-0.43,"y":-0.21,"a":-0.4},{"x":-0.31,"y":-0.21,"a":-0.2},{"x":-0.25,"y":-0.21,"a":0.05},
      {"x":-0.66,"y":-0.08,"a":-0.7},{"x":-0.53,"y":-0.08,"a":-0.55},{"x":-0.4,"y":-0.08,"a":-0.75},{"x":-0.27,"y":-0.08,"a":-0.35},{"x":-0.15,"y":-0.08,"a":-0.15},{"x":-0.11,"y":-0.08,"a":0.1},
      {"x":-0.65,"y":0.05,"a":-0.6},{"x":-0.52,"y":0.05,"a":-0.8},{"x":-0.39,"y":0.05,"a":-0.55},{"x":-0.26,"y":0.05,"a":-0.45},{"x":-0.13,"y":0.05,"a":-0.25},{"x":0.0,"y":0.05,"a":0.02},
      {"x":-0.64,"y":0.18,"a":-0.75},{"x":-0.5,"y":0.18,"a":-0.6},{"x":-0.36,"y":0.18,"a":-0.85},{"x":-0.22,"y":0.18,"a":-0.55},{"x":-0.08,"y":0.18,"a":-0.35},{"x":0.05,"y":0.18,"a":-0.15},{"x":0.13,"y":0.18,"a":0.1},
      {"x":-0.63,"y":0.31,"a":-0.65},{"x":-0.49,"y":0.31,"a":-0.9},{"x":-0.35,"y":0.31,"a":-0.6},{"x":-0.21,"y":0.31,"a":-0.75},{"x":-0.07,"y":0.31,"a":-0.45},{"x":0.07,"y":0.31,"a":-0.25},{"x":0.24,"y":0.31,"a":0.12},
      {"x":-0.62,"y":0.44,"a":-0.8},{"x":-0.48,"y":0.44,"a":-0.6},{"x":-0.34,"y":0.44,"a":-0.75},{"x":-0.2,"y":0.44,"a":-0.55},{"x":-0.06,"y":0.44,"a":-0.65},{"x":0.08,"y":0.44,"a":-0.4},{"x":0.22,"y":0.44,"a":-0.3},{"x":0.33,"y":0.44,"a":-0.1},{"x":0.52,"y":0.43,"a":-0.05},
      {"x":-0.62,"y":0.58,"a":-0.6},{"x":-0.47,"y":0.58,"a":-0.85},{"x":-0.32,"y":0.58,"a":-0.65},{"x":-0.17,"y":0.58,"a":-1.0},{"x":-0.02,"y":0.58,"a":-0.55},{"x":0.13,"y":0.58,"a":-0.6},{"x":0.28,"y":0.58,"a":-0.45},{"x":0.38,"y":0.58,"a":-0.35},
      {"x":-0.6,"y":0.72,"a":-0.7},{"x":-0.45,"y":0.72,"a":-0.55},{"x":-0.3,"y":0.72,"a":-0.8},{"x":-0.15,"y":0.72,"a":-0.6},{"x":0.0,"y":0.72,"a":-0.9},{"x":0.15,"y":0.72,"a":-0.55},{"x":0.3,"y":0.72,"a":-0.65},{"x":0.39,"y":0.72,"a":-0.5},
      {"x":-0.57,"y":0.86,"a":-0.65},{"x":-0.42,"y":0.86,"a":-0.9},{"x":-0.27,"y":0.86,"a":-0.6},{"x":-0.12,"y":0.86,"a":-0.75},{"x":0.03,"y":0.86,"a":-0.55},{"x":0.18,"y":0.86,"a":-0.8},{"x":0.33,"y":0.86,"a":-0.6},
      {"x":-0.55,"y":1.0,"a":-0.75},{"x":-0.4,"y":1.0,"a":-0.6},{"x":-0.25,"y":1.0,"a":-0.95},{"x":-0.1,"y":1.0,"a":-0.65},{"x":0.05,"y":1.0,"a":-0.8},{"x":0.2,"y":1.0,"a":-0.55},{"x":0.35,"y":1.0,"a":-0.7},
      {"x":-0.52,"y":1.14,"a":-0.6},{"x":-0.37,"y":1.14,"a":-0.8},{"x":-0.22,"y":1.14,"a":-0.6},{"x":-0.07,"y":1.14,"a":-1.0},{"x":0.08,"y":1.14,"a":-0.65},{"x":0.23,"y":1.14,"a":-0.75},{"x":0.36,"y":1.14,"a":-0.6},{"x":-0.62,"y":1.2,"a":-0.55},
      {"x":-0.48,"y":1.28,"a":-0.7},{"x":-0.33,"y":1.28,"a":-0.6},{"x":-0.18,"y":1.28,"a":-0.85},{"x":-0.03,"y":1.28,"a":-0.6},{"x":0.12,"y":1.28,"a":-0.9},{"x":0.27,"y":1.28,"a":-0.6},{"x":0.37,"y":1.28,"a":-0.75},
      {"x":-0.44,"y":1.42,"a":-0.65},{"x":-0.29,"y":1.42,"a":-0.9},{"x":-0.14,"y":1.42,"a":-0.6},{"x":0.01,"y":1.42,"a":-0.75},{"x":0.16,"y":1.42,"a":-0.6},{"x":0.31,"y":1.42,"a":-0.85},{"x":-0.65,"y":1.5,"a":-0.5},
      {"x":-0.4,"y":1.56,"a":-0.6},{"x":-0.25,"y":1.56,"a":-0.75},{"x":-0.1,"y":1.56,"a":-0.95},{"x":0.05,"y":1.56,"a":-0.65},{"x":0.2,"y":1.56,"a":-0.8},{"x":0.26,"y":1.61,"a":-1.3},{"x":0.35,"y":1.56,"a":-0.6},
      {"x":-0.37,"y":1.7,"a":-0.7},{"x":-0.22,"y":1.7,"a":-0.6},{"x":-0.07,"y":1.7,"a":-0.85},{"x":0.08,"y":1.7,"a":-0.6},{"x":0.23,"y":1.7,"a":-0.75},{"x":0.37,"y":1.7,"a":-0.65},
      {"x":-0.33,"y":1.84,"a":-0.6},{"x":-0.18,"y":1.84,"a":-0.8},{"x":-0.03,"y":1.84,"a":-0.65},{"x":0.12,"y":1.84,"a":-0.9},{"x":0.27,"y":1.84,"a":-0.6},{"x":0.44,"y":1.84,"a":-0.55},{"x":-0.72,"y":1.9,"a":-0.9},
      {"x":-0.28,"y":1.97,"a":-0.75},{"x":-0.13,"y":1.97,"a":-0.6},{"x":0.02,"y":1.97,"a":-0.7},{"x":0.17,"y":1.97,"a":-0.85},{"x":0.32,"y":1.97,"a":-0.65}
    ],
    "b5": [
      {"x":-0.8,"y":-0.76,"a":-0.55},
      {"x":-0.76,"y":-0.65,"a":-0.6},{"x":-0.68,"y":-0.65,"a":-0.3},
      {"x":-0.73,"y":-0.52,"a":-0.5},{"x":-0.63,"y":-0.52,"a":-0.35},{"x":-0.55,"y":-0.52,"a":-0.1},
      {"x":-0.7,"y":-0.38,"a":-0.55},{"x":-0.59,"y":-0.38,"a":-0.3},{"x":-0.48,"y":-0.38,"a":-0.15},{"x":-0.41,"y":-0.38,"a":0.05},
      {"x":-0.67,"y":-0.24,"a":-0.6},{"x":-0.56,"y":-0.24,"a":-0.45},{"x":-0.44,"y":-0.24,"a":-0.25},{"x":-0.33,"y":-0.24,"a":-0.1},{"x":-0.27,"y":-0.24,"a":0.1},
      {"x":-0.65,"y":-0.1,"a":-0.5},{"x":-0.53,"y":-0.1,"a":-0.65},{"x":-0.41,"y":-0.1,"a":-0.3},{"x":-0.29,"y":-0.1,"a":-0.15},{"x":-0.17,"y":-0.1,"a":0.05},{"x":-0.13,"y":-0.1,"a":0.15},
      {"x":-0.62,"y":0.04,"a":-0.55},{"x":-0.5,"y":0.04,"a":-0.45},{"x":-0.38,"y":0.04,"a":-0.6},{"x":-0.26,"y":0.04,"a":-0.25},{"x":-0.14,"y":0.04,"a":-0.1},{"x":-0.03,"y":0.04,"a":0.12},
      {"x":-0.6,"y":0.18,"a":-0.6},{"x":-0.48,"y":0.18,"a":-0.5},{"x":-0.36,"y":0.18,"a":-0.35},{"x":-0.23,"y":0.18,"a":-0.4},{"x":-0.11,"y":0.18,"a":-0.2},{"x":0.01,"y":0.18,"a":0.0},{"x":0.12,"y":0.18,"a":0.2},
      {"x":-0.57,"y":0.32,"a":-0.5},{"x":-0.45,"y":0.32,"a":-0.65},{"x":-0.33,"y":0.32,"a":-0.4},{"x":-0.21,"y":0.32,"a":-0.3},{"x":-0.09,"y":0.32,"a":-0.15},{"x":0.04,"y":0.32,"a":-0.05},{"x":0.16,"y":0.32,"a":0.15},{"x":0.27,"y":0.32,"a":0.3},
      {"x":0.34,"y":0.38,"a":0.38},
      {"x":-0.54,"y":0.46,"a":-0.55},{"x":-0.42,"y":0.46,"a":-0.4},{"x":-0.3,"y":0.46,"a":-0.8},{"x":-0.17,"y":0.46,"a":-0.35},{"x":-0.05,"y":0.46,"a":-0.2},{"x":0.08,"y":0.46,"a":-0.1},{"x":0.2,"y":0.46,"a":0.05},
      {"x":-0.51,"y":0.6,"a":-0.6},{"x":-0.39,"y":0.6,"a":-0.5},{"x":-0.27,"y":0.6,"a":-0.35},{"x":-0.15,"y":0.6,"a":-0.55},{"x":-0.03,"y":0.6,"a":-0.25},{"x":0.09,"y":0.6,"a":-0.15},{"x":0.2,"y":0.6,"a":-0.05},
      {"x":-0.48,"y":0.74,"a":-0.45},{"x":-0.36,"y":0.74,"a":-0.7},{"x":-0.24,"y":0.74,"a":-0.4},{"x":-0.12,"y":0.74,"a":-0.3},{"x":0.0,"y":0.74,"a":-0.45},{"x":0.12,"y":0.74,"a":-0.1},{"x":0.22,"y":0.74,"a":-0.15},
      {"x":-0.46,"y":0.88,"a":-0.55},{"x":-0.34,"y":0.88,"a":-0.4},{"x":-0.22,"y":0.88,"a":-0.85},{"x":-0.1,"y":0.88,"a":-0.35},{"x":0.02,"y":0.88,"a":-0.25},{"x":0.14,"y":0.88,"a":-0.15},
      {"x":-0.44,"y":1.02,"a":-0.5},{"x":-0.32,"y":1.02,"a":-0.6},{"x":-0.2,"y":1.02,"a":-0.35},{"x":-0.08,"y":1.02,"a":-0.45},{"x":0.04,"y":1.02,"a":-0.2},{"x":0.15,"y":1.02,"a":-0.3},
      {"x":-0.42,"y":1.16,"a":-0.4},{"x":-0.3,"y":1.16,"a":-0.55},{"x":-0.18,"y":1.16,"a":-0.3},{"x":-0.06,"y":1.16,"a":-0.75},{"x":0.06,"y":1.16,"a":-0.25},
      {"x":-0.4,"y":1.3,"a":-0.35},{"x":-0.28,"y":1.3,"a":-0.5},{"x":-0.16,"y":1.3,"a":-0.4},{"x":-0.04,"y":1.3,"a":-0.3},{"x":0.06,"y":1.3,"a":-0.2},
      {"x":-0.38,"y":1.44,"a":-0.45},{"x":-0.26,"y":1.44,"a":-0.3},{"x":-0.14,"y":1.44,"a":-0.55},{"x":-0.02,"y":1.44,"a":-0.25},{"x":0.05,"y":1.44,"a":-0.35},
      {"x":-0.36,"y":1.58,"a":-0.3},{"x":-0.24,"y":1.58,"a":-0.45},{"x":-0.12,"y":1.58,"a":-0.35},{"x":0.0,"y":1.58,"a":-0.25},
      {"x":-0.87,"y":1.59,"a":-0.35},{"x":-0.68,"y":1.59,"a":-0.4},
      {"x":-0.47,"y":1.73,"a":-0.3},{"x":-0.34,"y":1.73,"a":-0.4},{"x":-0.22,"y":1.73,"a":-0.3},{"x":-0.1,"y":1.73,"a":-0.45},{"x":0.0,"y":1.73,"a":-0.2},
      {"x":-0.32,"y":1.86,"a":-0.35},{"x":-0.2,"y":1.86,"a":-0.5},{"x":-0.08,"y":1.86,"a":-0.3},{"x":0.01,"y":1.86,"a":-0.25},
      {"x":-0.3,"y":1.98,"a":-0.4},{"x":-0.18,"y":1.98,"a":-0.3},{"x":-0.07,"y":1.98,"a":-0.35},{"x":0.0,"y":1.98,"a":-0.25}
    ],
    "b10": [
      {"x":-0.78,"y":-0.77,"a":-0.5},{"x":-0.74,"y":-0.7,"a":-0.55},{"x":-0.7,"y":-0.68,"a":-0.35},{"x":-0.68,"y":-0.62,"a":-0.5},{"x":-0.64,"y":-0.61,"a":-0.3},{"x":-0.62,"y":-0.54,"a":-0.5},{"x":-0.58,"y":-0.55,"a":-0.2},{"x":-0.56,"y":-0.47,"a":-0.45},{"x":-0.52,"y":-0.49,"a":-0.15},{"x":-0.5,"y":-0.41,"a":-0.4},{"x":-0.48,"y":-0.32,"a":-0.55},{"x":-0.44,"y":-0.41,"a":-0.1},{"x":-0.42,"y":-0.33,"a":-0.3},{"x":-0.4,"y":-0.24,"a":-0.5},{"x":-0.37,"y":-0.15,"a":-0.55},{"x":-0.36,"y":-0.33,"a":0.0},{"x":-0.33,"y":-0.25,"a":-0.2},{"x":-0.31,"y":-0.16,"a":-0.4},{"x":-0.28,"y":-0.06,"a":-0.5},{"x":-0.27,"y":-0.24,"a":0.02},{"x":-0.24,"y":-0.16,"a":-0.2},{"x":-0.22,"y":-0.07,"a":-0.35},{"x":-0.2,"y":0.03,"a":-0.5},{"x":-0.18,"y":-0.15,"a":0.08},{"x":-0.16,"y":-0.07,"a":-0.1},{"x":-0.14,"y":0.02,"a":-0.3},{"x":-0.12,"y":0.12,"a":-0.45},{"x":-0.1,"y":-0.07,"a":0.08},{"x":-0.08,"y":0.03,"a":-0.05},{"x":-0.06,"y":0.13,"a":-0.25},{"x":-0.04,"y":0.22,"a":-0.35},{"x":-0.02,"y":0.01,"a":0.12},{"x":0.0,"y":0.11,"a":0.0},{"x":0.02,"y":0.21,"a":-0.15},{"x":0.05,"y":0.3,"a":-0.1},{"x":0.06,"y":0.09,"a":0.15},{"x":0.08,"y":0.19,"a":0.1},{"x":0.1,"y":0.28,"a":0.0},{"x":0.14,"y":0.16,"a":0.22},{"x":0.16,"y":0.26,"a":0.18},{"x":0.18,"y":0.35,"a":0.25},{"x":0.21,"y":0.23,"a":0.28},{"x":0.24,"y":0.32,"a":0.32},{"x":0.27,"y":0.3,"a":0.35},{"x":0.29,"y":0.39,"a":0.4},{"x":0.33,"y":0.45,"a":0.42},{"x":0.38,"y":0.6,"a":0.42},{"x":0.44,"y":0.63,"a":0.45},
      {"x":0.08,"y":1.56,"a":-0.05},{"x":0.05,"y":1.27,"a":-0.05},{"x":0.07,"y":0.68,"a":-0.05},{"x":0.03,"y":0.53,"a":-0.1},{"x":0.1,"y":0.44,"a":-0.05},{"x":-0.19,"y":0.32,"a":-0.5},{"x":-0.2,"y":0.22,"a":-0.55}
    ],
    "b15": [
      {"x":-0.8,"y":-0.79,"a":-0.5},{"x":-0.76,"y":-0.72,"a":-0.45},{"x":-0.72,"y":-0.7,"a":-0.3},{"x":-0.7,"y":-0.64,"a":-0.5},{"x":-0.66,"y":-0.63,"a":-0.3},{"x":-0.62,"y":-0.57,"a":-0.4},{"x":-0.58,"y":-0.55,"a":-0.2},{"x":-0.55,"y":-0.49,"a":-0.35},{"x":-0.52,"y":-0.49,"a":-0.15},{"x":-0.48,"y":-0.42,"a":-0.25},{"x":-0.45,"y":-0.37,"a":-0.4},{"x":-0.43,"y":-0.41,"a":-0.05},{"x":-0.4,"y":-0.34,"a":-0.15},{"x":-0.37,"y":-0.28,"a":-0.3},{"x":-0.34,"y":-0.31,"a":0.0},{"x":-0.31,"y":-0.25,"a":-0.05},{"x":-0.29,"y":-0.19,"a":-0.2},{"x":-0.26,"y":-0.22,"a":0.05},{"x":-0.23,"y":-0.15,"a":0.0},{"x":-0.2,"y":-0.13,"a":0.1},{"x":-0.17,"y":-0.07,"a":0.05},{"x":-0.14,"y":-0.09,"a":0.12},{"x":-0.11,"y":-0.01,"a":0.1},{"x":-0.08,"y":-0.02,"a":0.15},{"x":-0.05,"y":0.06,"a":0.12},{"x":-0.02,"y":0.05,"a":0.2},{"x":0.01,"y":0.14,"a":0.18},{"x":0.04,"y":0.12,"a":0.24},{"x":0.06,"y":0.21,"a":0.22},{"x":0.1,"y":0.22,"a":0.28},{"x":0.12,"y":0.3,"a":0.27},{"x":0.16,"y":0.32,"a":0.32},{"x":0.18,"y":0.4,"a":0.32},{"x":0.22,"y":0.42,"a":0.36},{"x":0.25,"y":0.5,"a":0.38},{"x":0.28,"y":0.52,"a":0.4},{"x":0.3,"y":0.58,"a":0.42},{"x":0.34,"y":0.58,"a":0.44},{"x":0.36,"y":0.66,"a":0.42},{"x":0.39,"y":0.72,"a":0.45},{"x":0.42,"y":0.78,"a":0.45},{"x":0.49,"y":0.84,"a":0.46},{"x":0.44,"y":0.9,"a":0.46},{"x":0.53,"y":1.06,"a":0.48},{"x":0.65,"y":1.01,"a":0.48},{"x":0.47,"y":0.96,"a":0.45}
    ],
    "b20": [
      {"x":-0.82,"y":-0.8,"a":-0.5},{"x":-0.78,"y":-0.75,"a":-0.45},{"x":-0.74,"y":-0.72,"a":-0.35},{"x":-0.7,"y":-0.66,"a":-0.4},{"x":-0.66,"y":-0.63,"a":-0.3},{"x":-0.62,"y":-0.58,"a":-0.25},{"x":-0.58,"y":-0.55,"a":-0.3},{"x":-0.54,"y":-0.51,"a":-0.15},{"x":-0.5,"y":-0.46,"a":-0.2},{"x":-0.46,"y":-0.43,"a":-0.1},{"x":-0.42,"y":-0.38,"a":-0.05},{"x":-0.38,"y":-0.34,"a":-0.1},{"x":-0.34,"y":-0.3,"a":0.0},{"x":-0.3,"y":-0.25,"a":0.05},{"x":-0.26,"y":-0.22,"a":0.02},{"x":-0.22,"y":-0.17,"a":0.1},{"x":-0.18,"y":-0.13,"a":0.08},{"x":-0.14,"y":-0.08,"a":0.12},{"x":-0.1,"y":-0.04,"a":0.15},{"x":-0.06,"y":0.01,"a":0.15},{"x":-0.02,"y":0.05,"a":0.18},{"x":0.02,"y":0.1,"a":0.22},{"x":0.05,"y":0.17,"a":0.25},{"x":0.08,"y":0.24,"a":0.3},{"x":0.1,"y":0.32,"a":0.3},{"x":0.12,"y":0.4,"a":0.33},{"x":0.14,"y":0.48,"a":0.35},{"x":0.16,"y":0.55,"a":0.35},{"x":0.18,"y":0.62,"a":0.3},{"x":0.14,"y":0.68,"a":0.25},{"x":0.2,"y":0.72,"a":0.3},{"x":0.24,"y":0.6,"a":0.38},{"x":0.28,"y":0.66,"a":0.4},{"x":0.3,"y":0.74,"a":0.35},{"x":0.26,"y":0.8,"a":0.28},{"x":0.33,"y":0.82,"a":0.32},{"x":0.22,"y":0.88,"a":0.25},{"x":0.3,"y":0.92,"a":0.3},{"x":0.12,"y":0.98,"a":0.15},{"x":0.2,"y":1.0,"a":0.2},{"x":0.33,"y":1.0,"a":0.3},{"x":0.36,"y":0.7,"a":0.45},{"x":0.4,"y":0.8,"a":0.42},{"x":0.34,"y":0.56,"a":0.45},{"x":0.2,"y":0.45,"a":0.4},{"x":0.26,"y":0.5,"a":0.42},
      {"x":0.5,"y":1.88,"a":0.45},{"x":0.4,"y":1.75,"a":0.3},{"x":0.21,"y":1.73,"a":0.15},{"x":0.38,"y":1.6,"a":0.3},{"x":0.24,"y":1.47,"a":0.2},{"x":0.36,"y":1.44,"a":0.25},{"x":0.26,"y":1.33,"a":0.22},{"x":0.5,"y":1.33,"a":0.4},{"x":0.6,"y":1.3,"a":0.42},{"x":0.89,"y":1.64,"a":0.45}
    ]
  },
  "vconcat": [
    {
      "title": {"text": "ℒ \u00a0= \u00a0G₂(ϕ, X) \u00a0+ \u00a0G₄(ϕ)R", "font": "Liberation Serif", "fontStyle": "italic", "fontSize": 26, "fontWeight": "normal", "anchor": "start", "frame": "group", "dx": 166, "offset": 16},
      "spacing": 0,
      "bounds": "flush",
      "resolve": {"scale": {"x": "independent", "y": "independent", "color": "shared"}, "legend": {"color": "shared"}},
      "hconcat": [
        {"title": "z=0", "width": 104, "height": 104, "resolve": {"axis": {"x": "independent", "y": "independent"}}, "layer": [
          {"data": {"name": "a0"}, "mark": {"type": "circle", "size": 34, "opacity": 1}, "encoding": {
            "x": {"field": "x", "type": "quantitative", "scale": {"domain": [-1, 2], "nice": false, "zero": false}, "axis": {"values": [-1, 0, 1, 2], "title": "Gₗᵢgₕₜ/Gₙ-1"}},
            "y": {"field": "y", "type": "quantitative", "scale": {"domain": [-1, 2], "nice": false, "zero": false}, "axis": {"values": [-1, 0, 1, 2], "title": "Gₘₐₜₜₑᵣ/Gₙ-1"}},
            "color": {"field": "a", "type": "quantitative", "scale": {"domain": [-1.5, -1.25, -1, -0.75, -0.5, -0.25, 0, 0.25, 0.5], "range": ["#0a2ff0", "#1a6fd0", "#1a9aa8", "#22b878", "#44cc3a", "#b8dc22", "#f5c21e", "#f3862a", "#e82424"], "interpolate": "rgb"}, "legend": {"title": "αM", "values": [-1.5, -1, -0.5, 0, 0.5], "format": ".1~f", "orient": "none", "legendX": 628, "legendY": -25, "gradientLength": 104}}}},
          {"data": {"name": "diag"}, "mark": {"type": "line", "color": "#000", "strokeDash": [5, 4], "strokeWidth": 1.1}, "encoding": {
            "x": {"field": "x", "type": "quantitative", "scale": {"domain": [-1, 2], "nice": false, "zero": false}, "axis": {"orient": "top", "values": [0, 1], "labels": false, "title": null}},
            "y": {"field": "y", "type": "quantitative", "scale": {"domain": [-1, 2], "nice": false, "zero": false}, "axis": {"orient": "right", "values": [0, 1], "labels": false, "title": null}}}}
        ]},
        {"title": "z=0.1", "width": 104, "height": 104, "resolve": {"axis": {"x": "independent", "y": "independent"}}, "layer": [
          {"data": {"name": "a1"}, "mark": {"type": "circle", "size": 34, "opacity": 1}, "encoding": {
            "x": {"field": "x", "type": "quantitative", "scale": {"domain": [-1, 2], "nice": false, "zero": false}, "axis": {"values": [0, 1], "title": null}},
            "y": {"field": "y", "type": "quantitative", "scale": {"domain": [-1, 2], "nice": false, "zero": false}, "axis": {"values": [0, 1], "labels": false, "title": null}},
            "color": {"field": "a", "type": "quantitative", "scale": {"domain": [-1.5, -1.25, -1, -0.75, -0.5, -0.25, 0, 0.25, 0.5], "range": ["#0a2ff0", "#1a6fd0", "#1a9aa8", "#22b878", "#44cc3a", "#b8dc22", "#f5c21e", "#f3862a", "#e82424"], "interpolate": "rgb"}, "legend": {"title": "αM", "values": [-1.5, -1, -0.5, 0, 0.5], "format": ".1~f", "orient": "none", "legendX": 628, "legendY": -25, "gradientLength": 104}}}},
          {"data": {"name": "diag"}, "mark": {"type": "line", "color": "#000", "strokeDash": [5, 4], "strokeWidth": 1.1}, "encoding": {
            "x": {"field": "x", "type": "quantitative", "scale": {"domain": [-1, 2], "nice": false, "zero": false}, "axis": {"orient": "top", "values": [0, 1], "labels": false, "title": null}},
            "y": {"field": "y", "type": "quantitative", "scale": {"domain": [-1, 2], "nice": false, "zero": false}, "axis": {"orient": "right", "values": [0, 1], "labels": false, "title": null}}}}
        ]},
        {"title": "z = 0.5", "width": 104, "height": 104, "resolve": {"axis": {"x": "independent", "y": "independent"}}, "layer": [
          {"data": {"name": "a5"}, "mark": {"type": "circle", "size": 34, "opacity": 1}, "encoding": {
            "x": {"field": "x", "type": "quantitative", "scale": {"domain": [-1, 2], "nice": false, "zero": false}, "axis": {"values": [0, 1], "title": null}},
            "y": {"field": "y", "type": "quantitative", "scale": {"domain": [-1, 2], "nice": false, "zero": false}, "axis": {"values": [0, 1], "labels": false, "title": null}},
            "color": {"field": "a", "type": "quantitative", "scale": {"domain": [-1.5, -1.25, -1, -0.75, -0.5, -0.25, 0, 0.25, 0.5], "range": ["#0a2ff0", "#1a6fd0", "#1a9aa8", "#22b878", "#44cc3a", "#b8dc22", "#f5c21e", "#f3862a", "#e82424"], "interpolate": "rgb"}, "legend": {"title": "αM", "values": [-1.5, -1, -0.5, 0, 0.5], "format": ".1~f", "orient": "none", "legendX": 628, "legendY": -25, "gradientLength": 104}}}},
          {"data": {"name": "diag"}, "mark": {"type": "line", "color": "#000", "strokeDash": [5, 4], "strokeWidth": 1.1}, "encoding": {
            "x": {"field": "x", "type": "quantitative", "scale": {"domain": [-1, 2], "nice": false, "zero": false}, "axis": {"orient": "top", "values": [0, 1], "labels": false, "title": null}},
            "y": {"field": "y", "type": "quantitative", "scale": {"domain": [-1, 2], "nice": false, "zero": false}, "axis": {"orient": "right", "values": [0, 1], "labels": false, "title": null}}}}
        ]},
        {"title": "z = 1.0", "width": 104, "height": 104, "resolve": {"axis": {"x": "independent", "y": "independent"}}, "layer": [
          {"data": {"name": "a10"}, "mark": {"type": "circle", "size": 34, "opacity": 1}, "encoding": {
            "x": {"field": "x", "type": "quantitative", "scale": {"domain": [-1, 2], "nice": false, "zero": false}, "axis": {"values": [0, 1], "title": null}},
            "y": {"field": "y", "type": "quantitative", "scale": {"domain": [-1, 2], "nice": false, "zero": false}, "axis": {"values": [0, 1], "labels": false, "title": null}},
            "color": {"field": "a", "type": "quantitative", "scale": {"domain": [-1.5, -1.25, -1, -0.75, -0.5, -0.25, 0, 0.25, 0.5], "range": ["#0a2ff0", "#1a6fd0", "#1a9aa8", "#22b878", "#44cc3a", "#b8dc22", "#f5c21e", "#f3862a", "#e82424"], "interpolate": "rgb"}, "legend": {"title": "αM", "values": [-1.5, -1, -0.5, 0, 0.5], "format": ".1~f", "orient": "none", "legendX": 628, "legendY": -25, "gradientLength": 104}}}},
          {"data": {"name": "diag"}, "mark": {"type": "line", "color": "#000", "strokeDash": [5, 4], "strokeWidth": 1.1}, "encoding": {
            "x": {"field": "x", "type": "quantitative", "scale": {"domain": [-1, 2], "nice": false, "zero": false}, "axis": {"orient": "top", "values": [0, 1], "labels": false, "title": null}},
            "y": {"field": "y", "type": "quantitative", "scale": {"domain": [-1, 2], "nice": false, "zero": false}, "axis": {"orient": "right", "values": [0, 1], "labels": false, "title": null}}}}
        ]},
        {"title": "z = 1.5", "width": 104, "height": 104, "resolve": {"axis": {"x": "independent", "y": "independent"}}, "layer": [
          {"data": {"name": "a15"}, "mark": {"type": "circle", "size": 34, "opacity": 1}, "encoding": {
            "x": {"field": "x", "type": "quantitative", "scale": {"domain": [-1, 2], "nice": false, "zero": false}, "axis": {"values": [0, 1], "title": null}},
            "y": {"field": "y", "type": "quantitative", "scale": {"domain": [-1, 2], "nice": false, "zero": false}, "axis": {"values": [0, 1], "labels": false, "title": null}},
            "color": {"field": "a", "type": "quantitative", "scale": {"domain": [-1.5, -1.25, -1, -0.75, -0.5, -0.25, 0, 0.25, 0.5], "range": ["#0a2ff0", "#1a6fd0", "#1a9aa8", "#22b878", "#44cc3a", "#b8dc22", "#f5c21e", "#f3862a", "#e82424"], "interpolate": "rgb"}, "legend": {"title": "αM", "values": [-1.5, -1, -0.5, 0, 0.5], "format": ".1~f", "orient": "none", "legendX": 628, "legendY": -25, "gradientLength": 104}}}},
          {"data": {"name": "diag"}, "mark": {"type": "line", "color": "#000", "strokeDash": [5, 4], "strokeWidth": 1.1}, "encoding": {
            "x": {"field": "x", "type": "quantitative", "scale": {"domain": [-1, 2], "nice": false, "zero": false}, "axis": {"orient": "top", "values": [0, 1], "labels": false, "title": null}},
            "y": {"field": "y", "type": "quantitative", "scale": {"domain": [-1, 2], "nice": false, "zero": false}, "axis": {"orient": "right", "values": [0, 1], "labels": false, "title": null}}}}
        ]},
        {"title": "z = 2.0", "width": 104, "height": 104, "resolve": {"axis": {"x": "independent", "y": "independent"}}, "layer": [
          {"data": {"name": "a20"}, "mark": {"type": "circle", "size": 34, "opacity": 1}, "encoding": {
            "x": {"field": "x", "type": "quantitative", "scale": {"domain": [-1, 2], "nice": false, "zero": false}, "axis": {"values": [0, 1], "title": null}},
            "y": {"field": "y", "type": "quantitative", "scale": {"domain": [-1, 2], "nice": false, "zero": false}, "axis": {"values": [0, 1], "labels": false, "title": null}},
            "color": {"field": "a", "type": "quantitative", "scale": {"domain": [-1.5, -1.25, -1, -0.75, -0.5, -0.25, 0, 0.25, 0.5], "range": ["#0a2ff0", "#1a6fd0", "#1a9aa8", "#22b878", "#44cc3a", "#b8dc22", "#f5c21e", "#f3862a", "#e82424"], "interpolate": "rgb"}, "legend": {"title": "αM", "values": [-1.5, -1, -0.5, 0, 0.5], "format": ".1~f", "orient": "none", "legendX": 628, "legendY": -25, "gradientLength": 104}}}},
          {"data": {"name": "diag"}, "mark": {"type": "line", "color": "#000", "strokeDash": [5, 4], "strokeWidth": 1.1}, "encoding": {
            "x": {"field": "x", "type": "quantitative", "scale": {"domain": [-1, 2], "nice": false, "zero": false}, "axis": {"orient": "top", "values": [0, 1], "labels": false, "title": null}},
            "y": {"field": "y", "type": "quantitative", "scale": {"domain": [-1, 2], "nice": false, "zero": false}, "axis": {"orient": "right", "values": [0, 1], "labels": false, "title": null}}}}
        ]}
      ]
    },
    {
      "title": {"text": "ℒ \u00a0\u00a0= \u00a0\u00a0G₂(ϕ, X) \u00a0\u00a0− \u00a0\u00a0G₃(ϕ, X)□ϕ \u00a0\u00a0+ \u00a0\u00a0G₄(ϕ)R", "font": "Liberation Serif", "fontStyle": "italic", "fontSize": 26, "fontWeight": "normal", "anchor": "start", "frame": "group", "dx": 74, "offset": 16},
      "spacing": 0,
      "bounds": "flush",
      "resolve": {"scale": {"x": "independent", "y": "independent", "color": "shared"}, "legend": {"color": "shared"}},
      "hconcat": [
        {"title": "z=0", "width": 104, "height": 104, "resolve": {"axis": {"x": "independent", "y": "independent"}}, "layer": [
          {"data": {"name": "b0"}, "mark": {"type": "circle", "size": 34, "opacity": 1}, "encoding": {
            "x": {"field": "x", "type": "quantitative", "scale": {"domain": [-1, 2], "nice": false, "zero": false}, "axis": {"values": [-1, 0, 1, 2], "title": "Gₗᵢgₕₜ/Gₙ-1"}},
            "y": {"field": "y", "type": "quantitative", "scale": {"domain": [-1, 2], "nice": false, "zero": false}, "axis": {"values": [-1, 0, 1, 2], "title": "Gₘₐₜₜₑᵣ/Gₙ-1"}},
            "color": {"field": "a", "type": "quantitative", "scale": {"domain": [-1.5, -1.25, -1, -0.75, -0.5, -0.25, 0, 0.25, 0.5], "range": ["#0a2ff0", "#1a6fd0", "#1a9aa8", "#22b878", "#44cc3a", "#b8dc22", "#f5c21e", "#f3862a", "#e82424"], "interpolate": "rgb"}, "legend": {"title": "αM", "values": [-1.5, -1, -0.5, 0, 0.5], "format": ".1~f", "orient": "none", "legendX": 628, "legendY": -25, "gradientLength": 104}}}},
          {"data": {"name": "diag"}, "mark": {"type": "line", "color": "#000", "strokeDash": [5, 4], "strokeWidth": 1.1}, "encoding": {
            "x": {"field": "x", "type": "quantitative", "scale": {"domain": [-1, 2], "nice": false, "zero": false}, "axis": {"orient": "top", "values": [0, 1], "labels": false, "title": null}},
            "y": {"field": "y", "type": "quantitative", "scale": {"domain": [-1, 2], "nice": false, "zero": false}, "axis": {"orient": "right", "values": [0, 1], "labels": false, "title": null}}}}
        ]},
        {"title": "z=0.1", "width": 104, "height": 104, "resolve": {"axis": {"x": "independent", "y": "independent"}}, "layer": [
          {"data": {"name": "b1"}, "mark": {"type": "circle", "size": 34, "opacity": 1}, "encoding": {
            "x": {"field": "x", "type": "quantitative", "scale": {"domain": [-1, 2], "nice": false, "zero": false}, "axis": {"values": [0, 1], "title": null}},
            "y": {"field": "y", "type": "quantitative", "scale": {"domain": [-1, 2], "nice": false, "zero": false}, "axis": {"values": [0, 1], "labels": false, "title": null}},
            "color": {"field": "a", "type": "quantitative", "scale": {"domain": [-1.5, -1.25, -1, -0.75, -0.5, -0.25, 0, 0.25, 0.5], "range": ["#0a2ff0", "#1a6fd0", "#1a9aa8", "#22b878", "#44cc3a", "#b8dc22", "#f5c21e", "#f3862a", "#e82424"], "interpolate": "rgb"}, "legend": {"title": "αM", "values": [-1.5, -1, -0.5, 0, 0.5], "format": ".1~f", "orient": "none", "legendX": 628, "legendY": -25, "gradientLength": 104}}}},
          {"data": {"name": "diag"}, "mark": {"type": "line", "color": "#000", "strokeDash": [5, 4], "strokeWidth": 1.1}, "encoding": {
            "x": {"field": "x", "type": "quantitative", "scale": {"domain": [-1, 2], "nice": false, "zero": false}, "axis": {"orient": "top", "values": [0, 1], "labels": false, "title": null}},
            "y": {"field": "y", "type": "quantitative", "scale": {"domain": [-1, 2], "nice": false, "zero": false}, "axis": {"orient": "right", "values": [0, 1], "labels": false, "title": null}}}}
        ]},
        {"title": "z = 0.5", "width": 104, "height": 104, "resolve": {"axis": {"x": "independent", "y": "independent"}}, "layer": [
          {"data": {"name": "b5"}, "mark": {"type": "circle", "size": 34, "opacity": 1}, "encoding": {
            "x": {"field": "x", "type": "quantitative", "scale": {"domain": [-1, 2], "nice": false, "zero": false}, "axis": {"values": [0, 1], "title": null}},
            "y": {"field": "y", "type": "quantitative", "scale": {"domain": [-1, 2], "nice": false, "zero": false}, "axis": {"values": [0, 1], "labels": false, "title": null}},
            "color": {"field": "a", "type": "quantitative", "scale": {"domain": [-1.5, -1.25, -1, -0.75, -0.5, -0.25, 0, 0.25, 0.5], "range": ["#0a2ff0", "#1a6fd0", "#1a9aa8", "#22b878", "#44cc3a", "#b8dc22", "#f5c21e", "#f3862a", "#e82424"], "interpolate": "rgb"}, "legend": {"title": "αM", "values": [-1.5, -1, -0.5, 0, 0.5], "format": ".1~f", "orient": "none", "legendX": 628, "legendY": -25, "gradientLength": 104}}}},
          {"data": {"name": "diag"}, "mark": {"type": "line", "color": "#000", "strokeDash": [5, 4], "strokeWidth": 1.1}, "encoding": {
            "x": {"field": "x", "type": "quantitative", "scale": {"domain": [-1, 2], "nice": false, "zero": false}, "axis": {"orient": "top", "values": [0, 1], "labels": false, "title": null}},
            "y": {"field": "y", "type": "quantitative", "scale": {"domain": [-1, 2], "nice": false, "zero": false}, "axis": {"orient": "right", "values": [0, 1], "labels": false, "title": null}}}}
        ]},
        {"title": "z = 1.0", "width": 104, "height": 104, "resolve": {"axis": {"x": "independent", "y": "independent"}}, "layer": [
          {"data": {"name": "b10"}, "mark": {"type": "circle", "size": 34, "opacity": 1}, "encoding": {
            "x": {"field": "x", "type": "quantitative", "scale": {"domain": [-1, 2], "nice": false, "zero": false}, "axis": {"values": [0, 1], "title": null}},
            "y": {"field": "y", "type": "quantitative", "scale": {"domain": [-1, 2], "nice": false, "zero": false}, "axis": {"values": [0, 1], "labels": false, "title": null}},
            "color": {"field": "a", "type": "quantitative", "scale": {"domain": [-1.5, -1.25, -1, -0.75, -0.5, -0.25, 0, 0.25, 0.5], "range": ["#0a2ff0", "#1a6fd0", "#1a9aa8", "#22b878", "#44cc3a", "#b8dc22", "#f5c21e", "#f3862a", "#e82424"], "interpolate": "rgb"}, "legend": {"title": "αM", "values": [-1.5, -1, -0.5, 0, 0.5], "format": ".1~f", "orient": "none", "legendX": 628, "legendY": -25, "gradientLength": 104}}}},
          {"data": {"name": "diag"}, "mark": {"type": "line", "color": "#000", "strokeDash": [5, 4], "strokeWidth": 1.1}, "encoding": {
            "x": {"field": "x", "type": "quantitative", "scale": {"domain": [-1, 2], "nice": false, "zero": false}, "axis": {"orient": "top", "values": [0, 1], "labels": false, "title": null}},
            "y": {"field": "y", "type": "quantitative", "scale": {"domain": [-1, 2], "nice": false, "zero": false}, "axis": {"orient": "right", "values": [0, 1], "labels": false, "title": null}}}}
        ]},
        {"title": "z = 1.5", "width": 104, "height": 104, "resolve": {"axis": {"x": "independent", "y": "independent"}}, "layer": [
          {"data": {"name": "b15"}, "mark": {"type": "circle", "size": 34, "opacity": 1}, "encoding": {
            "x": {"field": "x", "type": "quantitative", "scale": {"domain": [-1, 2], "nice": false, "zero": false}, "axis": {"values": [0, 1], "title": null}},
            "y": {"field": "y", "type": "quantitative", "scale": {"domain": [-1, 2], "nice": false, "zero": false}, "axis": {"values": [0, 1], "labels": false, "title": null}},
            "color": {"field": "a", "type": "quantitative", "scale": {"domain": [-1.5, -1.25, -1, -0.75, -0.5, -0.25, 0, 0.25, 0.5], "range": ["#0a2ff0", "#1a6fd0", "#1a9aa8", "#22b878", "#44cc3a", "#b8dc22", "#f5c21e", "#f3862a", "#e82424"], "interpolate": "rgb"}, "legend": {"title": "αM", "values": [-1.5, -1, -0.5, 0, 0.5], "format": ".1~f", "orient": "none", "legendX": 628, "legendY": -25, "gradientLength": 104}}}},
          {"data": {"name": "diag"}, "mark": {"type": "line", "color": "#000", "strokeDash": [5, 4], "strokeWidth": 1.1}, "encoding": {
            "x": {"field": "x", "type": "quantitative", "scale": {"domain": [-1, 2], "nice": false, "zero": false}, "axis": {"orient": "top", "values": [0, 1], "labels": false, "title": null}},
            "y": {"field": "y", "type": "quantitative", "scale": {"domain": [-1, 2], "nice": false, "zero": false}, "axis": {"orient": "right", "values": [0, 1], "labels": false, "title": null}}}}
        ]},
        {"title": "z = 2.0", "width": 104, "height": 104, "resolve": {"axis": {"x": "independent", "y": "independent"}}, "layer": [
          {"data": {"name": "b20"}, "mark": {"type": "circle", "size": 34, "opacity": 1}, "encoding": {
            "x": {"field": "x", "type": "quantitative", "scale": {"domain": [-1, 2], "nice": false, "zero": false}, "axis": {"values": [0, 1], "title": null}},
            "y": {"field": "y", "type": "quantitative", "scale": {"domain": [-1, 2], "nice": false, "zero": false}, "axis": {"values": [0, 1], "labels": false, "title": null}},
            "color": {"field": "a", "type": "quantitative", "scale": {"domain": [-1.5, -1.25, -1, -0.75, -0.5, -0.25, 0, 0.25, 0.5], "range": ["#0a2ff0", "#1a6fd0", "#1a9aa8", "#22b878", "#44cc3a", "#b8dc22", "#f5c21e", "#f3862a", "#e82424"], "interpolate": "rgb"}, "legend": {"title": "αM", "values": [-1.5, -1, -0.5, 0, 0.5], "format": ".1~f", "orient": "none", "legendX": 628, "legendY": -25, "gradientLength": 104}}}},
          {"data": {"name": "diag"}, "mark": {"type": "line", "color": "#000", "strokeDash": [5, 4], "strokeWidth": 1.1}, "encoding": {
            "x": {"field": "x", "type": "quantitative", "scale": {"domain": [-1, 2], "nice": false, "zero": false}, "axis": {"orient": "top", "values": [0, 1], "labels": false, "title": null}},
            "y": {"field": "y", "type": "quantitative", "scale": {"domain": [-1, 2], "nice": false, "zero": false}, "axis": {"orient": "right", "values": [0, 1], "labels": false, "title": null}}}}
        ]}
      ]
    }
  ],
  "spacing": 32,
  "resolve": {"scale": {"color": "independent"}, "legend": {"color": "independent"}}
}
